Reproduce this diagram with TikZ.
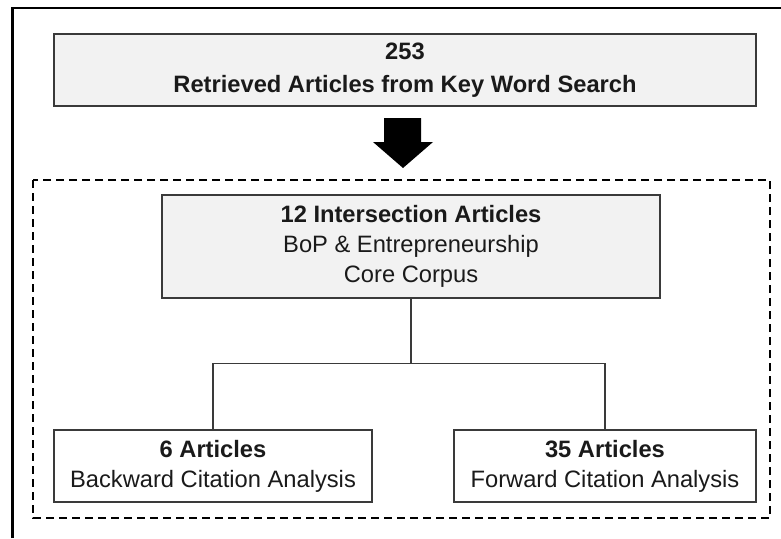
\documentclass[tikz,border=0pt]{standalone}
\usepackage{fontspec}
\setmainfont{Liberation Sans}
\usepackage{tikz}
\usetikzlibrary{positioning, calc}
\definecolor{boxfill}{HTML}{F2F2F2}
\definecolor{boxline}{HTML}{3A3A3A}
\definecolor{inktext}{HTML}{1A1A1A}

\begin{document}
\begin{tikzpicture}[x=1pt, y=-1pt, text=inktext,
            font=\fontsize{23.7}{30}\selectfont,
            box/.style={rectangle, draw=boxline, line width=1.3pt, align=center, inner sep=0},
            greybox/.style={box, fill=boxfill},
            link/.style={draw=boxline, line width=1.3pt}]
            \useasboundingbox (0,0) rectangle (781,538);
            % frame
            \draw[line width=2.2pt] (12.5,538) -- (12.5,8) -- (781,8);

            % Key word search
            \node[greybox, minimum width=702pt, minimum height=72pt, font=\fontsize{23.7}{33}\selectfont\bfseries]
                (search) at (405,70) {253\\Retrieved Articles from Key Word Search};
            \fill (384,118) -- (421,118) -- (421,142) -- (433,142) -- (403,168) -- (373,142) -- (384,142) -- cycle;

            % Corpus
            \draw[line width=2.4pt, dash pattern=on 8pt off 5pt] (33,180) rectangle (770,518);
            \node[greybox, minimum width=498pt, minimum height=103pt] (core) at (411,246.5)
                {\textbf{12 Intersection Articles}\\BoP \& Entrepreneurship\\Core Corpus};
            \foreach \x/\nm/\w/\num/\kind in {213/back/318/6/Backward, 605/fwd/302/35/Forward} {
                \node[box, fill=white, minimum width=\w pt, minimum height=72pt] (\nm) at (\x,466)
                    {\textbf{\num{} Articles}\\\kind{} Citation Analysis};
            }
            \coordinate (split) at ($(core.south)+(0,65)$);
            \draw[link] (core.south) -- (split);
            \draw[link] (split) -| (back.north);
            \draw[link] (split) -| (fwd.north);
        \end{tikzpicture}
\end{document}
